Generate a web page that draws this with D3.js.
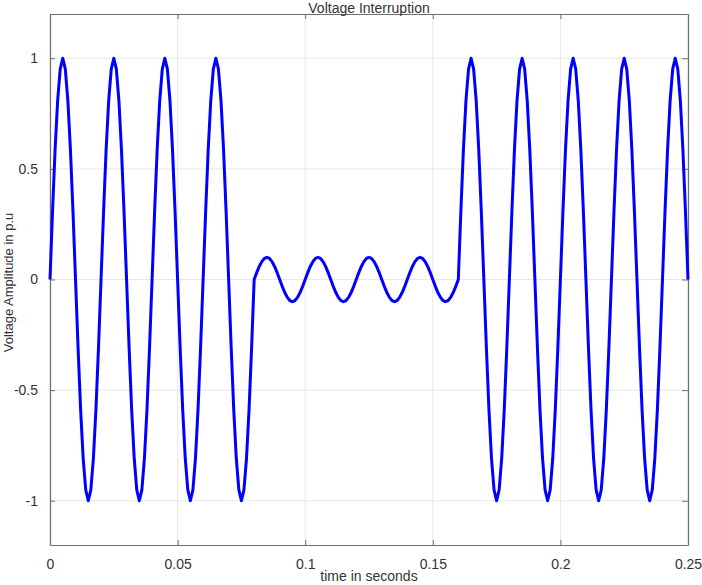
<!DOCTYPE html>
<html>
<head>
<meta charset="utf-8">
<script src="https://cdn.jsdelivr.net/npm/d3@7"></script>
<style>
  html, body { margin: 0; padding: 0; background: #fff; }
  svg { display: block; font-family: "Liberation Sans", Arial, Helvetica, sans-serif; }
</style>
</head>
<body>
<svg id="chart" width="702" height="585"></svg>
<script>
// ---- Data ----
const chartTitle = "Voltage Interruption";
const xLabel = "time in seconds";
const yLabel = "Voltage Amplitude in p.u";
const sampleStep = 0.001; // seconds between samples
const xTicks = [0, 0.05, 0.1, 0.15, 0.2, 0.25];
const xTickLabels = ["0", "0.05", "0.1", "0.15", "0.2", "0.25"];
const yTicks = [-1, -0.5, 0, 0.5, 1];
const yTickLabels = ["-1", "-0.5", "0", "0.5", "1"];

// t = 0.000 .. 0.079 s : normal supply
const beforeValues = [
  0, 0.309, 0.588, 0.809, 0.951, 1, 0.951, 0.809, 0.588, 0.309, 0, -0.309, -0.588, -0.809, -0.951, -1, -0.951, -0.809, -0.588, -0.309,
  0, 0.309, 0.588, 0.809, 0.951, 1, 0.951, 0.809, 0.588, 0.309, 0, -0.309, -0.588, -0.809, -0.951, -1, -0.951, -0.809, -0.588, -0.309,
  0, 0.309, 0.588, 0.809, 0.951, 1, 0.951, 0.809, 0.588, 0.309, 0, -0.309, -0.588, -0.809, -0.951, -1, -0.951, -0.809, -0.588, -0.309,
  0, 0.309, 0.588, 0.809, 0.951, 1, 0.951, 0.809, 0.588, 0.309, 0, -0.309, -0.588, -0.809, -0.951, -1, -0.951, -0.809, -0.588, -0.309
];
// t = 0.080 .. 0.159 s : interruption
const interruptionValues = [
  0, 0.031, 0.059, 0.081, 0.095, 0.1, 0.095, 0.081, 0.059, 0.031, 0, -0.031, -0.059, -0.081, -0.095, -0.1, -0.095, -0.081, -0.059, -0.031,
  0, 0.031, 0.059, 0.081, 0.095, 0.1, 0.095, 0.081, 0.059, 0.031, 0, -0.031, -0.059, -0.081, -0.095, -0.1, -0.095, -0.081, -0.059, -0.031,
  0, 0.031, 0.059, 0.081, 0.095, 0.1, 0.095, 0.081, 0.059, 0.031, 0, -0.031, -0.059, -0.081, -0.095, -0.1, -0.095, -0.081, -0.059, -0.031,
  0, 0.031, 0.059, 0.081, 0.095, 0.1, 0.095, 0.081, 0.059, 0.031, 0, -0.031, -0.059, -0.081, -0.095, -0.1, -0.095, -0.081, -0.059, -0.031
];
// t = 0.160 .. 0.250 s : supply restored
const afterValues = [
  0, 0.309, 0.588, 0.809, 0.951, 1, 0.951, 0.809, 0.588, 0.309, 0, -0.309, -0.588, -0.809, -0.951, -1, -0.951, -0.809, -0.588, -0.309,
  0, 0.309, 0.588, 0.809, 0.951, 1, 0.951, 0.809, 0.588, 0.309, 0, -0.309, -0.588, -0.809, -0.951, -1, -0.951, -0.809, -0.588, -0.309,
  0, 0.309, 0.588, 0.809, 0.951, 1, 0.951, 0.809, 0.588, 0.309, 0, -0.309, -0.588, -0.809, -0.951, -1, -0.951, -0.809, -0.588, -0.309,
  0, 0.309, 0.588, 0.809, 0.951, 1, 0.951, 0.809, 0.588, 0.309, 0, -0.309, -0.588, -0.809, -0.951, -1, -0.951, -0.809, -0.588, -0.309,
  0, 0.309, 0.588, 0.809, 0.951, 1, 0.951, 0.809, 0.588, 0.309, 0
];

const voltage = beforeValues.concat(interruptionValues, afterValues);
const samples = voltage.map((v, i) => ({ t: i * sampleStep, v: v }));

// ---- Layout ----
const svg = d3.select("#chart");
const margin = { left: 50, top: 14, right: 14, bottom: 40 };
const W = 702, H = 585;
const x0 = margin.left, x1 = W - margin.right;
const y0 = margin.top, y1 = H - margin.bottom;

const x = d3.scaleLinear().domain([0, 0.25]).range([x0, x1]);
const y = d3.scaleLinear().domain([-1.2, 1.2]).range([y1, y0]);

const axisColor = "#6e6e6e";
const textColor = "#333333";

// grid
const grid = svg.append("g");
grid.selectAll("line.gx").data(xTicks).enter().append("line")
  .attr("x1", d => x(d)).attr("x2", d => x(d))
  .attr("y1", y0).attr("y2", y1)
  .attr("stroke", "#e8e8e8").attr("stroke-width", 1);
grid.selectAll("line.gy").data(yTicks).enter().append("line")
  .attr("x1", x0).attr("x2", x1)
  .attr("y1", d => y(d)).attr("y2", d => y(d))
  .attr("stroke", "#e8e8e8").attr("stroke-width", 1);

// axes (ticks inward, MATLAB-style box)
function styleAxis(g) {
  g.select(".domain").attr("stroke", axisColor).attr("stroke-width", 1.2);
  g.selectAll(".tick line").attr("stroke", axisColor).attr("stroke-width", 1);
  g.selectAll(".tick text").attr("fill", textColor).attr("font-size", 14)
    .attr("font-family", "Liberation Sans, Arial, sans-serif");
}

const xAxisBottom = svg.append("g").attr("transform", `translate(0,${y1})`)
  .call(d3.axisBottom(x).tickValues(xTicks).tickFormat((d, i) => xTickLabels[i])
    .tickSizeInner(-5).tickSizeOuter(0).tickPadding(14));
styleAxis(xAxisBottom);

const xAxisTop = svg.append("g").attr("transform", `translate(0,${y0})`)
  .call(d3.axisTop(x).tickValues(xTicks).tickFormat("")
    .tickSizeInner(-5).tickSizeOuter(0));
styleAxis(xAxisTop);

const yAxisLeft = svg.append("g").attr("transform", `translate(${x0},0)`)
  .call(d3.axisLeft(y).tickValues(yTicks).tickFormat((d, i) => yTickLabels[i])
    .tickSizeInner(-5).tickSizeOuter(0).tickPadding(12));
styleAxis(yAxisLeft);

const yAxisRight = svg.append("g").attr("transform", `translate(${x1},0)`)
  .call(d3.axisRight(y).tickValues(yTicks).tickFormat("")
    .tickSizeInner(-6).tickSizeOuter(0));
styleAxis(yAxisRight);

// clip
svg.append("clipPath").attr("id", "plotclip").append("rect")
  .attr("x", x0 - 2).attr("y", y0).attr("width", x1 - x0 + 4).attr("height", y1 - y0);

// waveform
const line = d3.line().x(d => x(d.t)).y(d => y(d.v));
svg.append("path")
  .datum(samples)
  .attr("clip-path", "url(#plotclip)")
  .attr("d", line)
  .attr("fill", "none")
  .attr("stroke", "#0000ff")
  .attr("stroke-width", 3)
  .attr("stroke-linejoin", "round");

// title and labels
svg.append("text").attr("x", (x0 + x1) / 2).attr("y", 13)
  .attr("text-anchor", "middle").attr("font-size", 14).attr("fill", textColor)
  .text(chartTitle);
svg.append("text").attr("x", (x0 + x1) / 2).attr("y", 581)
  .attr("text-anchor", "middle").attr("font-size", 14).attr("fill", textColor)
  .text(xLabel);
svg.append("text").attr("transform", `translate(13,${(y0 + y1) / 2 + 3}) rotate(-90)`)
  .attr("text-anchor", "middle").attr("font-size", 13).attr("fill", textColor)
  .text(yLabel);
</script>
</body>
</html>
